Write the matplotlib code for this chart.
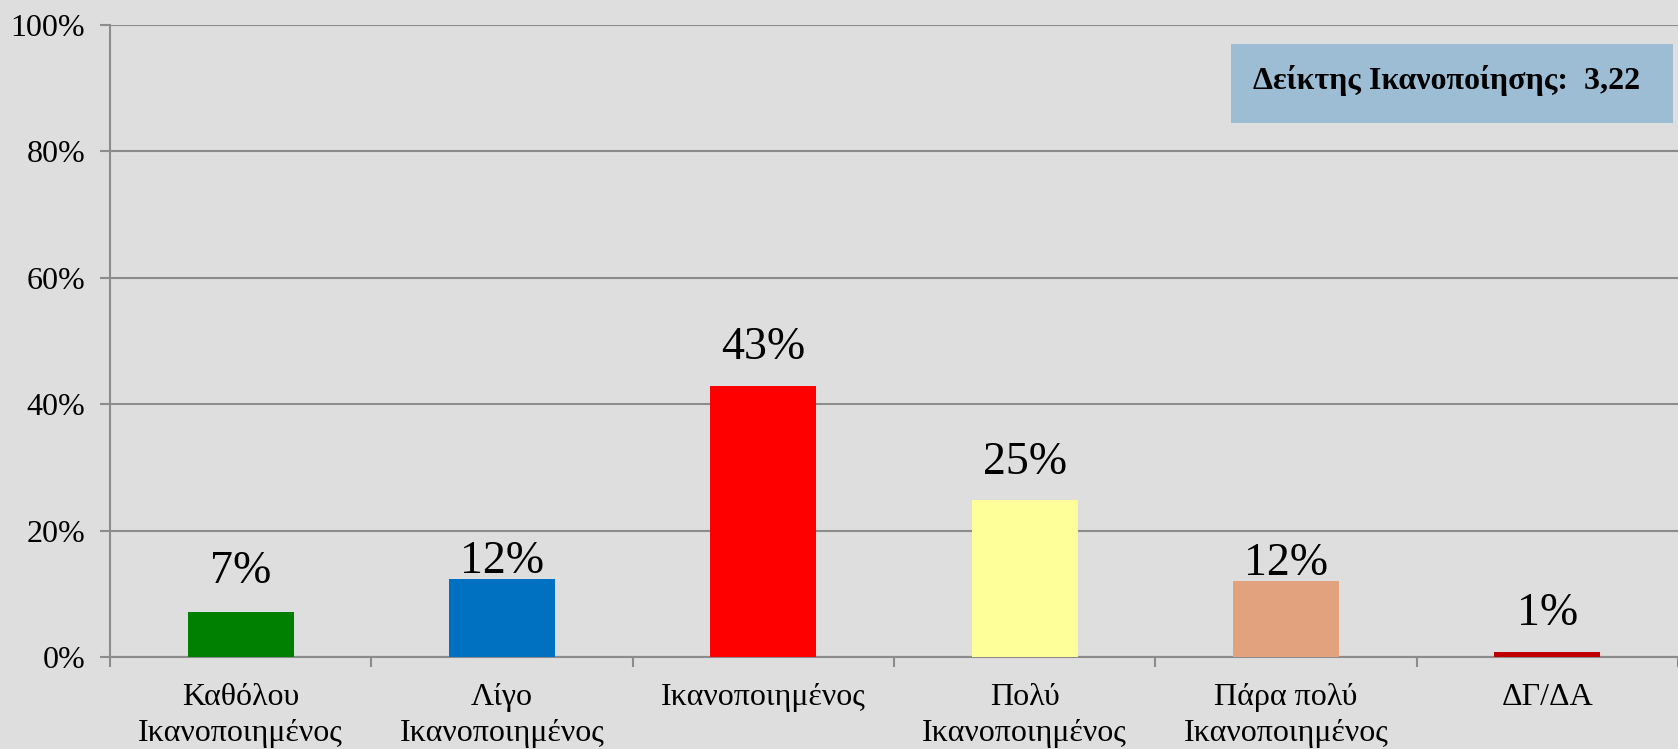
import numpy as np
import matplotlib.pyplot as plt

categories = ["Καθόλου\nΙκανοποιημένος", "Λίγο\nΙκανοποιημένος", "Ικανοποιημένος",
              "Πολύ\nΙκανοποιημένος", "Πάρα πολύ\nΙκανοποιημένος", "ΔΓ/ΔΑ"]
values = [0.071, 0.123, 0.429, 0.248, 0.120, 0.008]
labels = ["7%", "12%", "43%", "25%", "12%", "1%"]
colors = ["#008000", "#0070C0", "#FF0000", "#FFFF99", "#E2A27E", "#C00000"]
yticks = [0, 0.2, 0.4, 0.6, 0.8, 1.0]
ytick_labels = ["0%", "20%", "40%", "60%", "80%", "100%"]
index_text = "Δείκτης Ικανοποίησης:  3,22"

# label gap above bar (points); the 12% ones sit lower like in the original
label_gap = [14, -3, 12, 12, -3, 12]

plt.rcParams['font.family'] = ['Liberation Serif', 'DejaVu Serif']
bg = "#DEDEDE"
grid_c = "#8C8C8C"

fig = plt.figure(figsize=(16.78, 7.49), dpi=100, facecolor=bg)
ax = fig.add_axes([110/1678, 1-657/749, 1-110/1678, (657-25)/749])
ax.set_facecolor(bg)

x = np.arange(len(categories))
ax.bar(x, values, width=0.405, color=colors, zorder=3)
for xi, v, lab, g in zip(x, values, labels, label_gap):
    ax.annotate(lab, (xi, v), xytext=(0, g), textcoords="offset points",
                ha="center", va="bottom", fontsize=33)

ax.set_xlim(-0.5, len(categories)-0.5)
ax.set_ylim(0, 1.0)
ax.set_yticks(yticks)
ax.set_yticklabels(ytick_labels, fontsize=23)
ax.yaxis.grid(True, color=grid_c, linewidth=1.5, zorder=0)
ax.tick_params(axis='y', length=7, width=1.5, color=grid_c, pad=11)

ax.set_xticks(x)
ax.set_xticklabels(categories, fontsize=23, linespacing=1.3)
ax.set_xticks(np.arange(len(categories)+1)-0.5, minor=True)
ax.tick_params(axis='x', which='major', length=0, pad=19)
ax.tick_params(axis='x', which='minor', length=7, width=1.5, color=grid_c)

for s in ['top', 'right']:
    ax.spines[s].set_visible(False)
ax.spines['left'].set_color(grid_c)
ax.spines['left'].set_linewidth(1.5)
ax.spines['bottom'].set_color(grid_c)
ax.spines['bottom'].set_linewidth(1.5)

# index box
fig.patches.append(plt.Rectangle((1231/1678, 1-123/749), (1673-1231)/1678, (123-44)/749,
                                 transform=fig.transFigure, facecolor="#9DBDD4",
                                 edgecolor="none", zorder=5))
fig.text(1447/1678, 1-81/749, index_text, ha="center", va="center",
         fontsize=23, fontweight="bold", zorder=6)

fig.savefig("out.png", dpi=100, facecolor=bg)
